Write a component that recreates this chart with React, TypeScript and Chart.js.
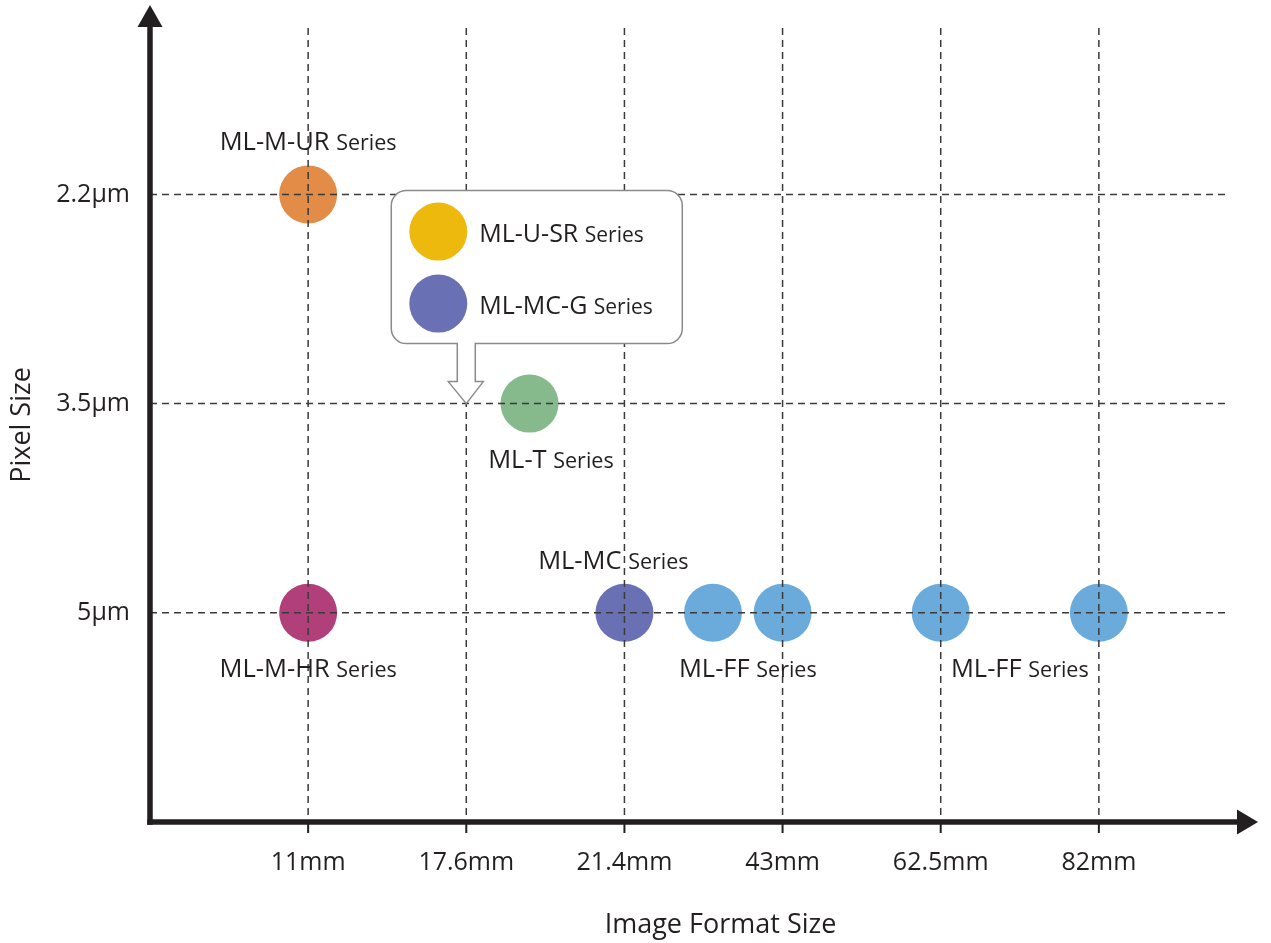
import React, { useEffect, useRef } from 'react';
import { Chart, registerables } from 'chart.js';
Chart.register(...registerables);

const xCategories = ['11mm', '17.6mm', '21.4mm', '43mm', '62.5mm', '82mm'];
const xCategoryPositions = [1, 2, 3, 4, 5, 6];
const yCategories = ['5µm', '3.5µm', '2.2µm'];
const yCategoryPositions = [1, 2, 3];

const seriesNames = ['ML-M-UR', 'ML-T', 'ML-M-HR', 'ML-MC', 'ML-FF'];
const seriesColors = ['#E28C48', '#86BA8C', '#B13F79', '#6A70B4', '#6AABDC'];
const mlMUR = [{ x: 1, y: 3 }];
const mlT = [{ x: 2.4, y: 2 }];
const mlMHR = [{ x: 1, y: 1 }];
const mlMC = [{ x: 3, y: 1 }];
const mlFF = [{ x: 3.56, y: 1 }, { x: 4, y: 1 }, { x: 5, y: 1 }, { x: 6, y: 1 }];
const seriesData = [mlMUR, mlT, mlMHR, mlMC, mlFF];

const calloutNames = ['ML-U-SR', 'ML-MC-G'];
const calloutColors = ['#EDB90C', '#6A70B4'];
const calloutAnchor = { x: 2, y: 2 };

const labelTexts = ['ML-M-UR', 'ML-T', 'ML-MC', 'ML-M-HR', 'ML-FF', 'ML-FF'];
const labelX = [1, 2.535, 2.93, 1, 3.78, 5.5];
const labelY = [3, 2, 1, 1, 1, 1];
const labelSide = ['above', 'below', 'above', 'below', 'below', 'below'];
const labelSuffix = 'Series';

const xTitle = 'Image Format Size';
const yTitle = 'Pixel Size';

const FONT = "'Open Sans', 'DejaVu Sans', sans-serif";
const TEXT = '#231F20';

function drawMixed(ctx: CanvasRenderingContext2D, main: string, suffix: string, x: number, baseline: number, mainSize: number, sufSize: number, align: 'center' | 'left') {
  ctx.save();
  ctx.fillStyle = TEXT;
  ctx.textBaseline = 'alphabetic';
  ctx.textAlign = 'left';
  ctx.font = `${mainSize}px ${FONT}`;
  const w1 = ctx.measureText(main + ' ').width;
  ctx.font = `${sufSize}px ${FONT}`;
  const w2 = ctx.measureText(suffix).width;
  const start = align === 'center' ? x - (w1 + w2) / 2 : x;
  ctx.font = `${mainSize}px ${FONT}`;
  ctx.fillText(main + ' ', start, baseline);
  ctx.font = `${sufSize}px ${FONT}`;
  ctx.fillText(suffix, start + w1, baseline);
  ctx.restore();
}

const overlayPlugin = {
  id: 'overlay',
  afterDatasetsDraw(chart: any) {
    const ctx: CanvasRenderingContext2D = chart.ctx;
    const { left, right, top, bottom } = chart.chartArea;
    const xs = chart.scales.x;
    const ys = chart.scales.y;

    // dashed grid on top of points
    ctx.save();
    ctx.strokeStyle = '#3a3a3a';
    ctx.lineWidth = 1.5;
    ctx.setLineDash([7, 5]);
    xCategoryPositions.forEach((v) => {
      const px = xs.getPixelForValue(v);
      ctx.beginPath();
      ctx.moveTo(px, top);
      ctx.lineTo(px, bottom);
      ctx.stroke();
    });
    yCategoryPositions.forEach((v) => {
      const py = ys.getPixelForValue(v);
      ctx.beginPath();
      ctx.moveTo(left, py);
      ctx.lineTo(right - 27, py);
      ctx.stroke();
    });
    ctx.restore();

    // callout
    const ax = xs.getPixelForValue(calloutAnchor.x);
    const ay = ys.getPixelForValue(calloutAnchor.y);
    const L = ax - 75, R = ax + 216, T = ay - 213, B = ay - 60, r = 15;
    ctx.save();
    ctx.beginPath();
    ctx.moveTo(L + r, T);
    ctx.lineTo(R - r, T);
    ctx.arcTo(R, T, R, T + r, r);
    ctx.lineTo(R, B - r);
    ctx.arcTo(R, B, R - r, B, r);
    ctx.lineTo(ax + 9, B);
    ctx.lineTo(ax + 9, ay - 22);
    ctx.lineTo(ax + 17, ay - 22);
    ctx.lineTo(ax, ay);
    ctx.lineTo(ax - 18, ay - 22);
    ctx.lineTo(ax - 9, ay - 22);
    ctx.lineTo(ax - 9, B);
    ctx.lineTo(L + r, B);
    ctx.arcTo(L, B, L, B - r, r);
    ctx.lineTo(L, T + r);
    ctx.arcTo(L, T, L + r, T, r);
    ctx.closePath();
    ctx.fillStyle = '#ffffff';
    ctx.fill();
    ctx.strokeStyle = '#8a8a8a';
    ctx.lineWidth = 1.5;
    ctx.stroke();
    calloutNames.forEach((name, i) => {
      const cy = ay - 172 + i * 72;
      ctx.beginPath();
      ctx.arc(ax - 28, cy, 29, 0, Math.PI * 2);
      ctx.fillStyle = calloutColors[i];
      ctx.fill();
      drawMixed(ctx, name, labelSuffix, ax + 13, cy + 10.5, 25, 21, 'left');
    });
    ctx.restore();

    // series labels
    labelTexts.forEach((t, i) => {
      const px = xs.getPixelForValue(labelX[i]);
      const py = ys.getPixelForValue(labelY[i]);
      const base = labelSide[i] === 'above' ? py - 44 : py + 64;
      drawMixed(ctx, t, labelSuffix, px, base, 25.5, 21.5, 'center');
    });

    // axes with arrows
    ctx.save();
    ctx.strokeStyle = TEXT;
    ctx.fillStyle = TEXT;
    ctx.lineWidth = 5.5;
    ctx.beginPath();
    ctx.moveTo(left, bottom + 2.75);
    ctx.lineTo(left, top - 1);
    ctx.stroke();
    ctx.beginPath();
    ctx.moveTo(left - 12.5, top - 1);
    ctx.lineTo(left + 12.5, top - 1);
    ctx.lineTo(left, top - 23);
    ctx.closePath();
    ctx.fill();
    ctx.beginPath();
    ctx.moveTo(left - 2.75, bottom);
    ctx.lineTo(right - 19, bottom);
    ctx.stroke();
    ctx.beginPath();
    ctx.moveTo(right - 20, bottom - 12.5);
    ctx.lineTo(right - 20, bottom + 12.5);
    ctx.lineTo(right + 1, bottom);
    ctx.closePath();
    ctx.fill();
    ctx.lineWidth = 2;
    xCategoryPositions.forEach((v) => {
      const px = xs.getPixelForValue(v);
      ctx.beginPath();
      ctx.moveTo(px, bottom);
      ctx.lineTo(px, bottom + 11);
      ctx.stroke();
    });
    ctx.restore();

    // axis titles
    ctx.save();
    ctx.fillStyle = TEXT;
    ctx.font = `27px ${FONT}`;
    ctx.textAlign = 'center';
    ctx.textBaseline = 'middle';
    ctx.fillText(xTitle, (left + right) / 2 + 17, 925);
    ctx.translate(22, (top + bottom) / 2);
    ctx.rotate(-Math.PI / 2);
    ctx.fillText(yTitle, 0, 0);
    ctx.restore();
  },
};

function zeroPadding(s: any) {
  s.paddingLeft = 0;
  s.paddingRight = 0;
  s.paddingTop = 0;
  s.paddingBottom = 0;
}

export default function App() {
  const ref = useRef<HTMLCanvasElement | null>(null);
  useEffect(() => {
    if (!ref.current) return;
    const chart = new Chart(ref.current, {
      type: 'scatter',
      data: {
        datasets: seriesNames.map((n, i) => ({
          label: n,
          data: seriesData[i],
          backgroundColor: seriesColors[i],
          borderWidth: 0,
          pointRadius: 29,
          pointHoverRadius: 29,
        })),
      },
      options: {
        responsive: false,
        animation: false,
        devicePixelRatio: 1,
        layout: { autoPadding: false, padding: { top: 28, right: 14, left: 0, bottom: 0 } },
        plugins: { legend: { display: false }, tooltip: { enabled: false } },
        events: [],
        scales: {
          x: {
            type: 'linear',
            min: 0,
            max: 7,
            grid: { display: false, drawTicks: false },
            border: { display: false },
            afterBuildTicks: (s: any) => {
              s.ticks = xCategoryPositions.map((v) => ({ value: v }));
            },
            afterFit: (s: any) => {
              s.height = 121;
              zeroPadding(s);
            },
            ticks: {
              autoSkip: false,
              maxRotation: 0,
              padding: 26,
              color: TEXT,
              font: { family: FONT, size: 25 },
              callback: (v: any) => xCategories[xCategoryPositions.indexOf(Number(v))] ?? '',
            },
          },
          y: {
            type: 'linear',
            min: 0,
            max: 3.7955,
            grid: { display: false, drawTicks: false },
            border: { display: false },
            afterBuildTicks: (s: any) => {
              s.ticks = yCategoryPositions.map((v) => ({ value: v }));
            },
            afterFit: (s: any) => {
              s.width = 150;
              zeroPadding(s);
            },
            ticks: {
              autoSkip: false,
              padding: 20,
              color: TEXT,
              font: { family: FONT, size: 25 },
              callback: (v: any) => yCategories[yCategoryPositions.indexOf(Number(v))] ?? '',
            },
          },
        },
      },
      plugins: [overlayPlugin],
    });
    return () => chart.destroy();
  }, []);
  return (
    <div style={{ position: 'fixed', left: 0, top: 0, width: 1271, height: 943, overflow: 'hidden', background: '#fff' }}>
      <canvas ref={ref} width={1271} height={943} style={{ display: 'block' }} />
    </div>
  );
}
